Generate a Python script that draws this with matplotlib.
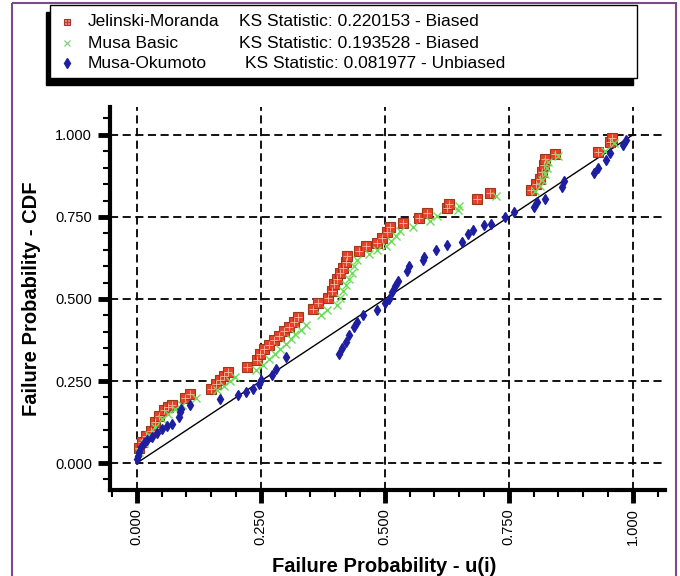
import matplotlib
matplotlib.use("Agg")
import matplotlib.pyplot as plt
from matplotlib.ticker import MultipleLocator, FixedLocator
from matplotlib.patches import Rectangle

plt.rcParams['font.family'] = ['Liberation Sans', 'DejaVu Sans']

# values
jm_x = [0.004, 0.010, 0.019, 0.028, 0.037, 0.045, 0.054, 0.063, 0.072, 0.098,
        0.107, 0.150, 0.159, 0.168, 0.176, 0.183, 0.222, 0.242, 0.248, 0.256,
        0.266, 0.276, 0.287, 0.297, 0.307, 0.317, 0.326, 0.355, 0.366, 0.385,
        0.393, 0.398, 0.404, 0.410, 0.416, 0.421, 0.424, 0.448, 0.462, 0.485,
        0.495, 0.504, 0.511, 0.537, 0.570, 0.585, 0.626, 0.630, 0.685, 0.712,
        0.794, 0.805, 0.812, 0.817, 0.821, 0.823, 0.844, 0.929, 0.955, 0.958]
jm_y = [0.045, 0.064, 0.084, 0.099, 0.125, 0.145, 0.161, 0.171, 0.176, 0.197,
        0.209, 0.227, 0.240, 0.253, 0.266, 0.277, 0.294, 0.315, 0.333, 0.347,
        0.361, 0.375, 0.388, 0.402, 0.416, 0.430, 0.445, 0.470, 0.488, 0.502,
        0.525, 0.545, 0.560, 0.578, 0.595, 0.612, 0.630, 0.646, 0.662, 0.672,
        0.686, 0.703, 0.720, 0.732, 0.747, 0.762, 0.777, 0.790, 0.806, 0.824,
        0.833, 0.850, 0.866, 0.886, 0.908, 0.928, 0.943, 0.949, 0.978, 0.990]

mb_x = [0.004, 0.014, 0.025, 0.036, 0.050, 0.062, 0.078, 0.092, 0.120, 0.162,
        0.175, 0.188, 0.198, 0.240, 0.255, 0.266, 0.278, 0.288, 0.300, 0.310,
        0.320, 0.332, 0.342, 0.372, 0.384, 0.404, 0.410, 0.416, 0.422, 0.428,
        0.433, 0.438, 0.444, 0.468, 0.484, 0.503, 0.513, 0.522, 0.530, 0.556,
        0.592, 0.605, 0.648, 0.650, 0.725, 0.802, 0.812, 0.818, 0.823, 0.827,
        0.830, 0.850, 0.945, 0.962]
mb_y = [0.035, 0.060, 0.085, 0.110, 0.135, 0.150, 0.165, 0.178, 0.197, 0.222,
        0.236, 0.250, 0.262, 0.285, 0.300, 0.318, 0.333, 0.348, 0.362, 0.377,
        0.392, 0.407, 0.422, 0.450, 0.466, 0.482, 0.503, 0.523, 0.542, 0.562,
        0.580, 0.600, 0.618, 0.636, 0.650, 0.662, 0.676, 0.692, 0.707, 0.720,
        0.737, 0.752, 0.770, 0.782, 0.815, 0.828, 0.845, 0.862, 0.880, 0.898,
        0.916, 0.935, 0.950, 0.975]

mo_x = [0.000, 0.002, 0.005, 0.009, 0.014, 0.021, 0.030, 0.040, 0.050, 0.060,
        0.070, 0.086, 0.087, 0.089, 0.108, 0.168, 0.205, 0.221, 0.234, 0.246,
        0.250, 0.273, 0.280, 0.300, 0.407, 0.414, 0.421, 0.428, 0.437, 0.445,
        0.457, 0.484, 0.500, 0.508, 0.515, 0.520, 0.526, 0.544, 0.548, 0.577,
        0.580, 0.604, 0.626, 0.656, 0.668, 0.678, 0.700, 0.714, 0.742, 0.760,
        0.800, 0.806, 0.824, 0.857, 0.862, 0.922, 0.929, 0.947, 0.954, 0.981,
        0.986]
mo_y = [0.012, 0.022, 0.035, 0.048, 0.060, 0.070, 0.080, 0.092, 0.103, 0.113,
        0.120, 0.140, 0.155, 0.166, 0.178, 0.195, 0.207, 0.217, 0.225, 0.240,
        0.252, 0.268, 0.287, 0.322, 0.332, 0.350, 0.369, 0.390, 0.414, 0.430,
        0.450, 0.467, 0.488, 0.500, 0.522, 0.541, 0.556, 0.586, 0.602, 0.618,
        0.628, 0.648, 0.663, 0.675, 0.699, 0.709, 0.724, 0.729, 0.750, 0.765,
        0.780, 0.795, 0.806, 0.842, 0.860, 0.885, 0.900, 0.925, 0.945, 0.968,
        0.985]

ref_line = [0.0, 1.0]
ticks = [0.0, 0.25, 0.5, 0.75, 1.0]
tick_labels = ['0.000', '0.250', '0.500', '0.750', '1.000']

models = ['Jelinski-Moranda', 'Musa Basic', 'Musa-Okumoto']
ks_text = ['KS Statistic: 0.220153 - Biased',
           'KS Statistic: 0.193528 - Biased',
           'KS Statistic: 0.081977 - Unbiased']

W, H = 680, 576
fig = plt.figure(figsize=(6.8, 5.76), dpi=100)

ax = fig.add_axes([110 / W, 86 / H, 555 / W, 383 / H])
ax.set_xlim(-0.054, 1.065)
ax.set_ylim(-0.082, 1.085)

red = '#e8402a'
red_edge = '#9a3a18'
green = '#6cdc58'
blue = '#1e1ea0'

ax.plot(ref_line, ref_line, color='black', lw=1.0, zorder=2)
ax.plot(jm_x, jm_y, 's', ms=6.5, mfc=red, mec=red_edge, mew=0.8, zorder=3)
ax.plot(jm_x, jm_y, '+', ms=6, color='#ffb8a0', mew=0.6, zorder=3)
ax.plot(mb_x, mb_y, 'x', ms=5.5, color=green, mew=1.0, zorder=4)
ax.plot(mo_x, mo_y, 'd', ms=5.5, color=blue, mec=blue, zorder=5)

for s in ['top', 'right']:
    ax.spines[s].set_visible(False)
for s in ['left', 'bottom']:
    ax.spines[s].set_linewidth(3)

ax.xaxis.set_major_locator(FixedLocator(ticks))
ax.yaxis.set_major_locator(FixedLocator(ticks))
ax.set_xticklabels(tick_labels, rotation=90)
ax.set_yticklabels(tick_labels)
ax.xaxis.set_minor_locator(MultipleLocator(0.05))
ax.yaxis.set_minor_locator(MultipleLocator(0.05))
ax.tick_params(which='major', direction='out', length=9, width=3.5, labelsize=10.5, pad=4)
ax.tick_params(which='minor', direction='out', length=5, width=1.5)
ax.grid(True, which='major', color='black', linestyle=(0, (4.5, 2.5)), linewidth=1.3)
ax.set_axisbelow(True)

fig.text(384 / W, 1 - 566 / H, 'Failure Probability - u(i)', fontsize=14.5,
         fontweight='bold', ha='center', va='center')
fig.text(32 / W, 1 - 299 / H, 'Failure Probability - CDF', fontsize=14.5,
         fontweight='bold', ha='center', va='center', rotation=90)

# overlay in pixel units for the frame and the legend box
ov = fig.add_axes([0, 0, 1, 1], zorder=10)
ov.set_xlim(0, W)
ov.set_ylim(H, 0)
ov.axis('off')
ov.patch.set_alpha(0)

ov.add_patch(Rectangle((12, 3), 664, 580, fill=False, edgecolor='#7a4a8a', lw=1.5))
ov.add_patch(Rectangle((46, 12), 587, 73, facecolor='black', edgecolor='black'))
ov.add_patch(Rectangle((50, 5), 587, 73, facecolor='white', edgecolor='black', lw=1))

rows = [22, 43, 63]
ks_x = [239, 239, 245]
ov.plot(67, rows[0], 's', ms=5, mfc='#f08080', mec='#b03030', mew=0.8)
ov.plot(67, rows[0], '+', ms=4.5, color='#b03030', mew=0.6)
ov.plot(67, rows[1], 'x', ms=5, color='#80d080', mew=0.9)
ov.plot(67, rows[2], 'd', ms=5, color=blue)
for i in range(3):
    ov.text(88, rows[i], models[i], fontsize=12.5, va='center', ha='left')
    ov.text(ks_x[i], rows[i], ks_text[i], fontsize=12.5, va='center', ha='left')

fig.savefig('out.png', dpi=100)
